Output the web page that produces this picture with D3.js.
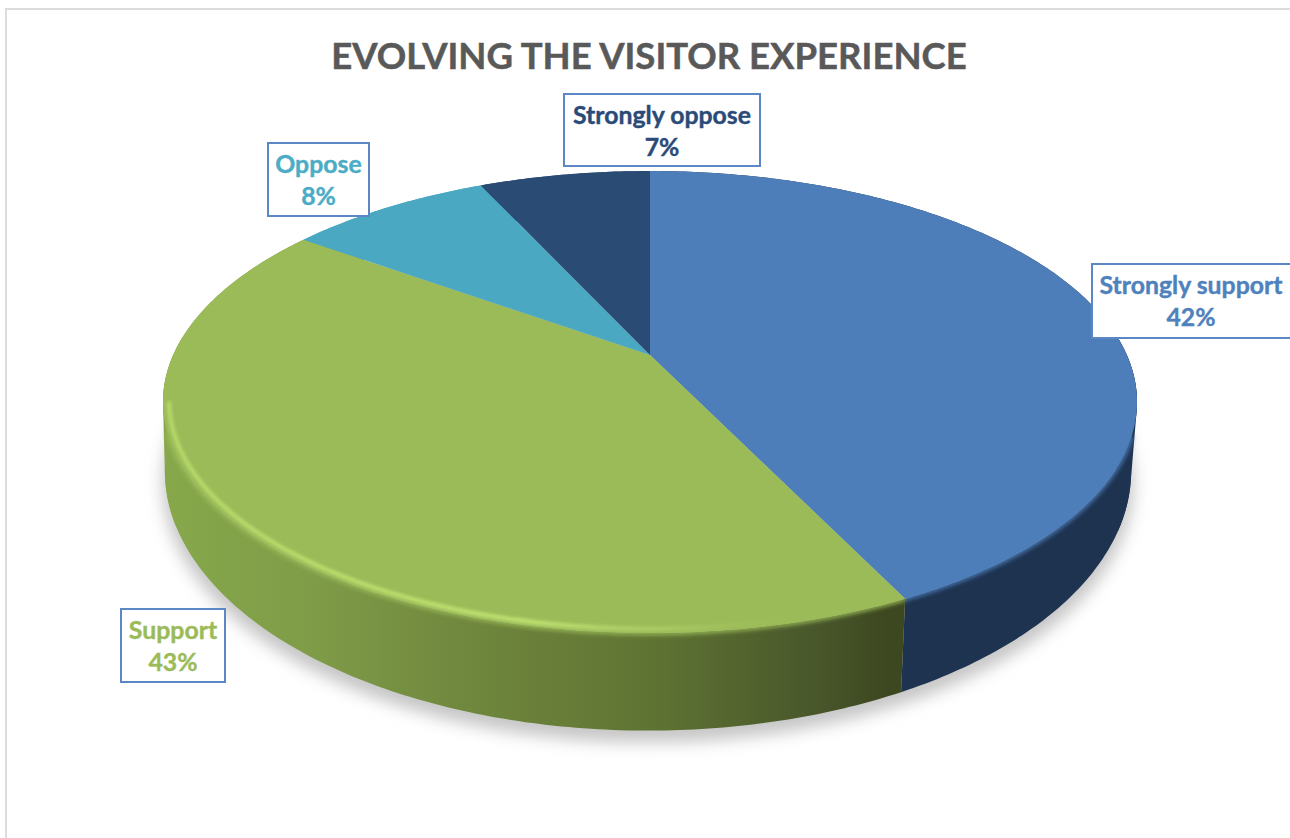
<!DOCTYPE html>
<html>
<head>
<meta charset="utf-8">
<script src="https://cdn.jsdelivr.net/npm/d3@7"></script>
<style>
html,body{margin:0;padding:0;background:#fff;overflow:hidden}
svg{display:block}
text{font-family:Lato,"Noto Sans",sans-serif;font-weight:700;paint-order:stroke}
</style>
</head>
<body>
<svg id="c" width="1290" height="838"></svg>
<script>
// ---- data ----
const title = "EVOLVING THE VISITOR EXPERIENCE";
const categories = ["Strongly support", "Support", "Oppose", "Strongly oppose"];
const shares = [42.8, 42.1, 8.2, 6.9];          // slice sizes as measured
const printedPercent = ["42%", "43%", "8%", "7%"]; // label text as printed

// ---- styles ----
const faceColors = ["#4d7eb9", "#9bbb59", "#4aa8c2", "#2a4b73"];
const textColors = ["#4f81bd", "#9bbb59", "#4bacc6", "#2a4b78"];
const labelBoxes = [[1092,264,220,74],[121,609,104,73],[268,143,101,73],[564,94,196,72]];

// ---- perspective model of the disc ----
const topPlane = {cx:650, y0:355, R:476.8, b:221.4, k:0.2035};
const lowPlane = {cx:648, y0:418, R:473, b:249, k:0.2035};
const project = (plane, a, s=1) => {
  const u = s*Math.sin(a), v = -s*Math.cos(a), w = 1 - plane.k*v;
  return [plane.cx + plane.R*u/w, plane.y0 + plane.b*v/w];
};
const line = d3.line();
const arcPts = (plane, a0, a1, s=1) => {
  const n = Math.max(2, Math.ceil(Math.abs(a1-a0)*80));
  return d3.range(n+1).map(i => project(plane, a0+(a1-a0)*i/n, s));
};

const color = d3.scaleOrdinal().domain(categories).range(faceColors);
const textColor = d3.scaleOrdinal().domain(categories).range(textColors);
const slices = d3.pie().sort(null).value((d,i)=>shares[i])(categories);

const svg = d3.select("#c");
const defs = svg.append("defs");
[["b1",1.4],["b2",2.2],["b8",8]].forEach(([id,sd])=>{
  defs.append("filter").attr("id",id).attr("x","-10%").attr("y","-10%").attr("width","120%").attr("height","120%")
    .append("feGaussianBlur").attr("stdDeviation",sd);
});
const grad = (id, stops) => {
  const g = defs.append("linearGradient").attr("id",id).attr("gradientUnits","userSpaceOnUse")
    .attr("x1",162).attr("x2",910).attr("y1",0).attr("y2",0);
  stops.forEach(([o,c,a])=>g.append("stop").attr("offset",o).attr("stop-color",c).attr("stop-opacity",a===undefined?1:a));
};
grad("greenWall",[[0,"#86a84a"],[0.2,"#7f9c48"],[0.42,"#6f863d"],[0.65,"#5f7433"],[0.88,"#48562a"],[0.97,"#3d4720"],[1,"#3d4720"]]);
grad("greenRim",[[0,"#b4d868"],[0.5,"#bde070"],[0.7,"#a9c963",0.8],[0.85,"#9bbb59",0.2],[1,"#9bbb59",0]]);

// chart frame
svg.append("path").attr("d","M6,838V9H1290").attr("fill","none").attr("stroke","#dcdcdc").attr("stroke-width",2);

// title
svg.append("text").attr("x",649).attr("y",69).attr("text-anchor","middle")
  .attr("font-size",36.5).attr("fill","#595959").attr("stroke","#595959").attr("stroke-width",0.5).text(title);

// soft ground shadow
svg.append("path")
  .attr("d", line(arcPts(lowPlane,0,2*Math.PI).map(([x,y])=>[648+(x-648)*1.005,y+12]))+"Z")
  .attr("fill","#c6c6c6").attr("filter","url(#b8)");

// side walls
const wallFill = i => i===1 ? "url(#greenWall)" : i===0 ? "#1e3350" : color(categories[i]);
svg.append("g").selectAll("path").data(slices).join("path")
  .attr("d",d=>{
    const up = arcPts(topPlane,d.startAngle,d.endAngle);
    const low = arcPts(lowPlane,d.endAngle,d.startAngle);
    return line(up.concat(low))+"Z";
  })
  .attr("fill",(d,i)=>wallFill(i));

// straight silhouette between the two rims at the left and right extremes
[[1.5,2.0,0],[4.3,4.8,1]].forEach(([a0,a1,i])=>{
  const hull = d3.polygonHull(arcPts(topPlane,a0,a1).concat(arcPts(lowPlane,a0,a1)));
  svg.append("path").attr("d",line(hull)+"Z").attr("fill",wallFill(i));
});

// soft edge where the face meets the wall (front rim only)
const softRanges = [[slices[0],1.92,slices[0].endAngle],[slices[1],slices[1].startAngle,4.38]];
svg.append("g").selectAll("path").data(softRanges).join("path")
  .attr("d",d=>line(arcPts(topPlane,d[1],d[2])))
  .attr("fill","none").attr("stroke",d=>color(d[0].data)).attr("stroke-width",4)
  .attr("filter","url(#b2)");

// top faces
svg.append("g").selectAll("path").data(slices).join("path")
  .attr("d",d=>line([[topPlane.cx,topPlane.y0]].concat(arcPts(topPlane,d.startAngle,d.endAngle)))+"Z")
  .attr("fill",d=>color(d.data));

// bevel highlight on the green rim
const green = slices[1];
svg.append("path")
  .attr("d",line(arcPts(topPlane,green.startAngle+0.02,4.5,0.988)))
  .attr("fill","none").attr("stroke","url(#greenRim)").attr("stroke-width",4.5)
  .attr("stroke-linecap","round").attr("filter","url(#b1)");

// data labels
const labels = svg.append("g").selectAll("g").data(categories).join("g");
labels.append("rect")
  .attr("x",(d,i)=>labelBoxes[i][0]).attr("y",(d,i)=>labelBoxes[i][1])
  .attr("width",(d,i)=>labelBoxes[i][2]).attr("height",(d,i)=>labelBoxes[i][3])
  .attr("fill","#fff").attr("stroke","#5b88c4").attr("stroke-width",2);
const labelX = (d,i)=>i===0?1191:labelBoxes[i][0]+labelBoxes[i][2]/2;
labels.append("text")
  .attr("x",labelX).attr("y",(d,i)=>labelBoxes[i][1]+30).attr("text-anchor","middle")
  .attr("font-size",24.8).attr("fill",d=>textColor(d)).attr("stroke",d=>textColor(d)).attr("stroke-width",0.4).text(d=>d);
labels.append("text")
  .attr("x",labelX).attr("y",(d,i)=>labelBoxes[i][1]+62).attr("text-anchor","middle")
  .attr("font-size",24.8).attr("fill",d=>textColor(d)).attr("stroke",d=>textColor(d)).attr("stroke-width",0.4).text((d,i)=>printedPercent[i]);
</script>
</body>
</html>
